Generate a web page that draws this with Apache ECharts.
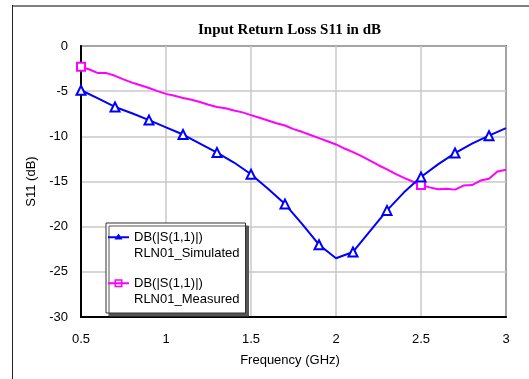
<!DOCTYPE html>
<html><head><meta charset="utf-8">
<script src="https://cdn.jsdelivr.net/npm/echarts@6/dist/echarts.min.js"></script>
<style>html,body{margin:0;padding:0;background:#fff}#c{width:529px;height:379px}</style>
</head><body><div id="c"></div>
<script>
const titleText = 'Input Return Loss S11 in dB';
const xName = 'Frequency (GHz)';
const yName = 'S11 (dB)';
const xMin = 0.5, xMax = 3, xStep = 0.5;
const yMin = -30, yMax = 0, yStep = 5;
const simName = 'DB(|S(1,1)|)\nRLN01_Simulated';
const measName = 'DB(|S(1,1)|)\nRLN01_Measured';

const simFreq = [0.5,0.6,0.7,0.8,0.9,1.0,1.1,1.2,1.3,1.4,1.5,1.6,1.7,1.8,1.9,2.0,2.1,2.2,2.3,2.4,2.5,2.6,2.7,2.8,2.9,3.0];
const simS11  = [-4.9,-5.8,-6.75,-7.45,-8.2,-9.0,-9.8,-10.8,-11.8,-12.9,-14.2,-15.8,-17.5,-19.7,-22.0,-23.5,-22.8,-20.5,-18.2,-16.2,-14.5,-13.1,-11.85,-10.8,-9.93,-9.1];
const simMarkerFreq = [0.5,0.7,0.9,1.1,1.3,1.5,1.7,1.9,2.1,2.3,2.5,2.7,2.9];

const measFreq = [0.5,0.55,0.6,0.65,0.7,0.75,0.8,0.85,0.9,0.95,1.0,1.05,1.1,1.15,1.2,1.25,1.3,1.35,1.4,1.45,1.5,1.55,1.6,1.65,1.7,1.75,1.8,1.85,1.9,1.95,2.0,2.05,2.1,2.15,2.2,2.25,2.3,2.35,2.4,2.45,2.5,2.55,2.6,2.65,2.7,2.75,2.8,2.85,2.9,2.95,3.0];
const measS11  = [-2.3,-2.6,-3.0,-3.0,-3.3,-3.7,-4.05,-4.35,-4.65,-5.0,-5.3,-5.5,-5.75,-5.95,-6.2,-6.5,-6.75,-6.9,-7.15,-7.35,-7.65,-7.95,-8.25,-8.55,-8.8,-9.2,-9.5,-9.85,-10.2,-10.55,-10.9,-11.35,-11.75,-12.2,-12.7,-13.2,-13.65,-14.15,-14.6,-15.0,-15.4,-15.65,-15.85,-15.8,-15.9,-15.45,-15.4,-14.9,-14.7,-13.9,-13.7];
const measMarkerFreq = [0.5,2.5];

const SANS = "Arial, 'Liberation Sans', sans-serif";
const SERIF = "'Times New Roman', 'Liberation Serif', serif";
const isMarker = (list, f) => list.some(m => Math.abs(m - f) < 1e-6);

const simData = simFreq.map((f, i) => ({ value: [f, simS11[i]], symbol: isMarker(simMarkerFreq, f) ? 'emptyTriangle' : 'none' }));
const measData = measFreq.map((f, i) => ({ value: [f, measS11[i]], symbol: isMarker(measMarkerFreq, f) ? 'emptyRect' : 'none' }));

const simIcon = 'path://M0,0L0,0Z M21,33L21,33Z M0,7.25L21,7.25L21,9.25L0,9.25Z M10.5,4.5L14.5,10.5L6.5,10.5Z';
const measIcon = 'path://M0,0L0,0Z M21,33L21,33Z M0,7.25L21,7.25L21,9.25L0,9.25Z M6.5,4.25L14.5,4.25L14.5,12.25L6.5,12.25Z M8,5.75L8,10.75L13,10.75L13,5.75Z';

const chart = echarts.init(document.getElementById('c'), null, { renderer: 'canvas' });
chart.setOption({
  animation: false,
  backgroundColor: '#fff',
  title: {
    text: titleText, left: 198, top: 23, padding: 0,
    textStyle: { fontFamily: SERIF, fontWeight: 'bold', fontSize: 15, color: '#000' }
  },
  graphic: [
    { type: 'line', shape: { x1: 12, y1: 6, x2: 529, y2: 6 }, style: { stroke: '#808080', lineWidth: 2 }, silent: true },
    { type: 'line', shape: { x1: 12.5, y1: 5, x2: 12.5, y2: 379 }, style: { stroke: '#222', lineWidth: 1 }, silent: true }
  ],
  grid: { left: 81, right: 23, top: 46, bottom: 62, show: true, borderColor: '#000', borderWidth: 1.5, backgroundColor: 'transparent' },
  legend: {
    orient: 'vertical', left: 106, top: 223,
    padding: [6, 6, 5, 2],
    itemGap: 13, itemWidth: 21, itemHeight: 33,
    selectedMode: false,
    backgroundColor: '#fff', borderColor: '#333', borderWidth: 1,
    shadowColor: '#555', shadowOffsetX: 3, shadowOffsetY: 3, shadowBlur: 0,
    textStyle: { fontFamily: SANS, fontSize: 13, lineHeight: 16.5, color: '#000' },
    data: [
      { name: simName, icon: simIcon, itemStyle: { color: '#0000ff', borderWidth: 0 } },
      { name: measName, icon: measIcon, itemStyle: { color: '#ff00ff', borderWidth: 0 } }
    ]
  },
  xAxis: {
    type: 'value', min: xMin, max: xMax, interval: xStep,
    name: xName, nameLocation: 'middle', nameGap: 37,
    nameTextStyle: { fontFamily: SANS, fontSize: 13, color: '#000', padding: [0, 7, 0, 0] },
    axisLine: { show: true, onZero: false, lineStyle: { color: '#000', width: 2 } },
    axisTick: { show: false },
    axisLabel: { margin: 16, fontFamily: SANS, fontSize: 13, color: '#000', formatter: v => String(v) },
    splitLine: { show: true, lineStyle: { color: '#c8c8c8', width: 1.5 } }
  },
  yAxis: {
    type: 'value', min: yMin, max: yMax, interval: yStep,
    name: yName, nameLocation: 'middle', nameGap: 43,
    nameTextStyle: { fontFamily: SANS, fontSize: 13, color: '#000' },
    axisLine: { show: true, onZero: false, lineStyle: { color: '#000', width: 2 } },
    axisTick: { show: false },
    axisLabel: { margin: 13, fontFamily: SANS, fontSize: 13, color: '#000', padding: [2, 0, 0, 0] },
    splitLine: { show: true, lineStyle: { color: '#c8c8c8', width: 1.5 } }
  },
  series: [
    {
      type: 'line', name: simName, data: simData, showAllSymbol: true, symbolSize: 9,
      lineStyle: { color: '#0000ff', width: 2 }, itemStyle: { color: '#0000ff', borderWidth: 2 },
      emphasis: { disabled: true }, z: 3
    },
    {
      type: 'line', name: measName, data: measData, showAllSymbol: true, symbolSize: 8,
      lineStyle: { color: '#ff00ff', width: 2 }, itemStyle: { color: '#ff00ff', borderWidth: 2 },
      emphasis: { disabled: true }, z: 2
    }
  ]
});
</script>
</body></html>
